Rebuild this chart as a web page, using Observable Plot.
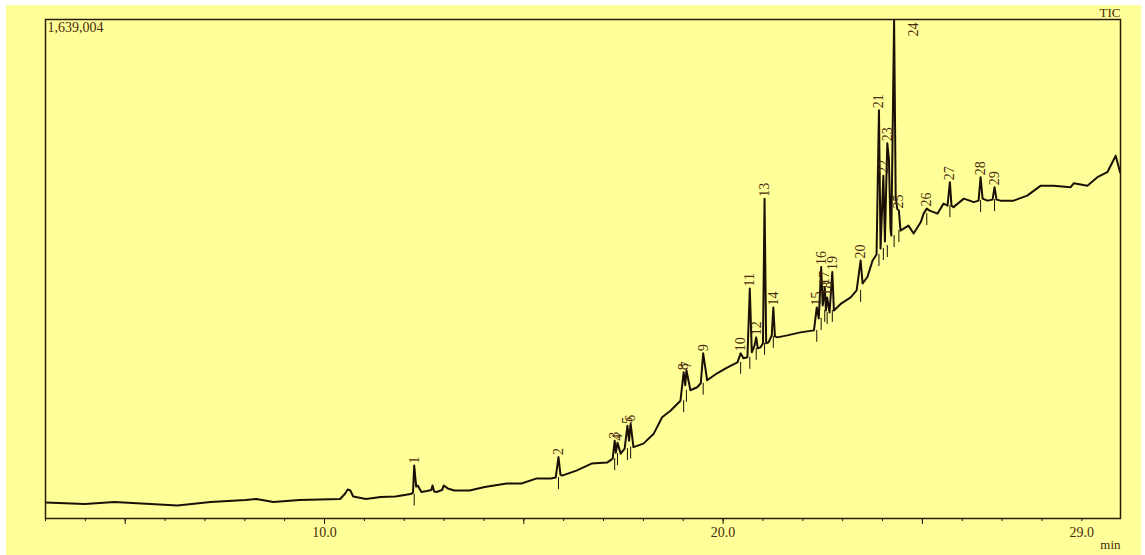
<!DOCTYPE html>
<html><head><meta charset="utf-8">
<script src="https://cdn.jsdelivr.net/npm/d3@7"></script>
<script src="https://cdn.jsdelivr.net/npm/@observablehq/plot@0.6"></script>
<style>
html,body{margin:0;padding:0;background:#fff;width:1145px;height:555px;overflow:hidden}
#chart{position:absolute;left:6px;top:5px}
</style>
</head><body><div id="chart"></div>
<script>
// Retention time (min) and relative intensity (% of 1,639,004 counts)
const rt = [3.00,3.99,4.73,6.31,7.14,8.02,8.29,8.72,9.37,10.39,10.52,10.58,10.65,10.72,11.04,11.41,11.78,12.16,12.22,12.25,12.30,12.34,12.43,12.57,12.68,12.71,12.75,12.81,12.95,12.99,13.05,13.09,13.26,13.64,14.02,14.57,14.94,15.31,15.68,15.80,15.87,15.92,15.96,16.32,16.70,17.09,17.23,17.28,17.31,17.35,17.43,17.53,17.60,17.64,17.68,17.75,18.00,18.26,18.47,18.68,18.93,19.01,19.05,19.08,19.18,19.35,19.44,19.50,19.60,19.85,20.11,20.36,20.44,20.51,20.61,20.67,20.72,20.79,20.83,20.87,20.94,21.00,21.04,21.08,21.14,21.22,21.26,21.30,21.36,21.61,21.94,22.28,22.31,22.35,22.40,22.46,22.50,22.55,22.58,22.61,22.67,22.74,22.78,22.95,23.20,23.35,23.45,23.50,23.62,23.75,23.85,23.91,23.95,24.02,24.06,24.09,24.12,24.16,24.20,24.22,24.29,24.33,24.37,24.41,24.45,24.53,24.65,24.78,24.96,25.03,25.11,25.18,25.38,25.53,25.63,25.69,25.73,25.78,26.04,26.29,26.41,26.46,26.51,26.63,26.76,26.81,26.86,26.96,27.29,27.63,27.97,28.29,28.72,28.80,29.14,29.39,29.64,29.85,29.96];
const intensity = [3.2,2.9,3.3,2.6,3.3,3.7,3.9,3.3,3.7,3.9,5.0,5.8,5.6,4.4,3.9,4.3,4.4,4.9,5.2,10.6,6.4,6.6,5.3,5.5,5.7,6.6,5.4,5.3,5.7,6.6,6.3,6.0,5.6,5.6,6.3,7.0,7.0,8.0,8.0,8.2,12.3,8.8,8.6,9.6,11.0,11.2,12.0,15.6,13.2,15.2,13.0,14.0,18.6,15.6,19.0,14.3,15.0,17.0,20.3,21.6,23.6,29.3,26.7,29.7,25.7,26.3,27.1,33.1,27.7,29.1,30.3,31.3,33.1,32.1,32.3,46.1,33.3,34.7,36.3,34.1,34.3,35.1,64.1,35.1,35.3,36.7,42.3,36.5,36.3,36.7,37.3,37.7,39.7,42.3,40.1,50.4,42.7,46.4,41.7,44.3,41.3,49.4,41.7,43.0,44.3,45.7,51.7,47.1,48.4,51.7,52.9,81.8,54.1,68.7,55.5,66.0,75.2,72.0,58.0,56.7,100,64.4,62.0,61.7,57.7,58.1,58.7,57.1,59.4,61.1,62.1,61.7,61.1,63.1,62.7,67.4,62.7,62.4,64.1,63.4,63.7,68.4,64.1,63.7,63.9,66.4,63.9,63.7,63.7,64.7,66.7,66.7,66.4,67.2,66.7,68.4,69.4,72.7,69.4];

// Labelled peaks: number, retention time, apex and local baseline (%)
const peakNo   = ["1","2","3","4","5","6","8","7","9","10","11","12","13","14","15","16","17","18","19","20","21","22","23","24","25","26","27","28","29"];
const peakRT   = [12.25,15.87,17.28,17.35,17.60,17.68,19.01,19.08,19.50,20.44,20.67,20.83,21.04,21.26,22.35,22.46,22.55,22.61,22.74,23.45,23.91,24.02,24.12,24.29,24.41,25.11,25.69,26.46,26.81];
const peakTop  = [10.6,12.3,15.6,15.2,18.6,19.0,29.3,29.7,33.1,33.1,46.1,36.3,64.1,42.3,42.3,50.4,46.4,44.3,49.4,51.7,81.8,68.7,75.2,100,61.7,62.1,67.4,68.4,66.4];
const peakBase = [4.9,8.2,12.0,13.0,14.0,14.3,23.6,25.7,27.1,31.3,32.3,34.1,35.1,36.5,37.7,40.1,41.7,41.3,41.7,45.7,52.9,54.1,54.7,56.7,57.7,61.1,62.7,63.7,63.9];

const minorTicks = d3.range(3, 30);
const majorTicks = [5, 10, 15, 20, 25];
const labelTicks = [10, 20, 29];
const fullScale = "1,639,004";

const trace = rt.map((t, i) => ({t, v: intensity[i]}));
const peaks = peakNo.map((n, i) => ({n, t: peakRT[i], top: peakTop[i], base: peakBase[i]}));
const ink = "#1a1006";
const brown = "#4a2a0c";

const chart = Plot.plot({
  width: 1135, height: 550,
  marginLeft: 39, marginRight: 21, marginTop: 14, marginBottom: 37,
  style: {background: "#ffff99", fontFamily: "'Liberation Serif','Times New Roman',serif", fontSize: "14px", color: brown},
  x: {domain: [3, 29.97], axis: null, label: null},
  y: {domain: [0, 100], axis: null, label: null},
  marks: [
    Plot.axisX(minorTicks, {tickSize: 3, tickFormat: () => "", stroke: ink, label: null}),
    Plot.axisX(majorTicks, {tickSize: 6, tickFormat: () => "", stroke: ink, label: null}),
    Plot.axisX(labelTicks, {tickSize: 0, tickPadding: 9, tickFormat: d => d.toFixed(1), fill: brown, fontSize: 14, label: null}),
    Plot.ruleX(peaks, {x: "t", y1: d => d.base - 2.4, y2: "base", stroke: ink, strokeWidth: 1}),
    Plot.line(trace, {x: "t", y: "v", stroke: ink, strokeWidth: 2, clip: true}),
    Plot.frame({stroke: "#2e1a06", strokeWidth: 1.5}),
    Plot.text(peaks.filter(d => d.n !== "24"), {x: "t", y: "top", text: "n", rotate: -90, textAnchor: "start", dy: -2, fill: brown, fontSize: 14}),
    Plot.text(peaks.filter(d => d.n === "24"), {x: "t", y: "top", text: "n", rotate: -90, textAnchor: "end", dx: 19, dy: 3, fill: brown, fontSize: 14}),
    Plot.text([fullScale], {frameAnchor: "top-left", text: d => d, textAnchor: "start", lineAnchor: "top", dx: 2, dy: 3, fill: brown, fontSize: 14}),
    Plot.text(["TIC"], {frameAnchor: "top-right", text: d => d, textAnchor: "end", lineAnchor: "bottom", dy: -3, fill: brown, fontSize: 13}),
    Plot.text(["min"], {frameAnchor: "bottom-right", text: d => d, textAnchor: "end", lineAnchor: "bottom", dy: 30, fill: brown, fontSize: 13})
  ]
});
document.getElementById("chart").appendChild(chart);
</script>
</body></html>
